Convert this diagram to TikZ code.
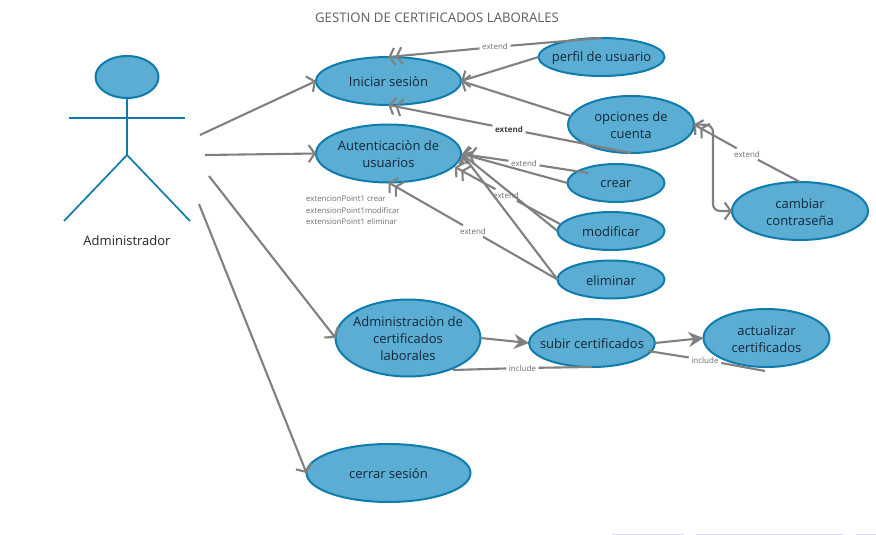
\documentclass[tikz,border=0pt]{standalone}
\usepackage{fontspec}
\setmainfont{Open Sans}
\usetikzlibrary{shapes.geometric,arrows.meta}
\definecolor{ucfill}{HTML}{5BADD3}
\definecolor{ucline}{HTML}{0F7CAB}
\definecolor{conn}{HTML}{808080}
\definecolor{txt}{HTML}{14283A}
\definecolor{smalltxt}{HTML}{6E6E6E}
\definecolor{edge}{HTML}{D9D9F2}
\tikzset{
  ucbase/.style={ellipse,draw=ucline,fill=ucfill,line width=2pt,inner sep=0pt,outer sep=0pt},
  uctext/.style={text=txt,align=center,inner sep=0pt,yshift=-1pt,font=\fontsize{13}{17}\selectfont},
  lbl/.style={text=smalltxt,inner sep=2.5pt,font=\fontsize{8}{10}\selectfont},
  conline/.style={draw=conn,line width=2.1pt},
  barb/.style={conline,-{Straight Barb[length=6pt,width=17pt]}},
  dbarb/.style={conline,-{Straight Barb[length=5pt,width=17pt]Straight Barb[length=5pt,width=17pt]}},
  solidhead/.style={conline,-{Stealth[length=15pt,width=15pt,inset=5pt]}},
  limb/.style={draw=ucline,line width=1.7pt}
}
\newcommand{\usecase}[6]{\node[ucbase,minimum width=#4pt,minimum height=#5pt,label={[uctext]center:{#6}}] (#1) at (#2,#3) {};}
\begin{document}
\begin{tikzpicture}[x=1pt,y=-1pt]
\useasboundingbox (0,0) rectangle (876,535);
\fill[white] (0,0) rectangle (876,535);
\fill[edge] (612,533.6) rectangle (684,535);
\fill[edge] (696,533.6) rectangle (843,535);
\fill[edge] (856,533.6) rectangle (876,535);

\node[text=smalltxt!85!black,font=\fontsize{13.2}{15}\selectfont] (title) at (437,17.6) {GESTION DE CERTIFICADOS LABORALES};

% actor
\node[ucbase,minimum width=63pt,minimum height=42pt] (head) at (127,77) {};
\coordinate (hip) at (127,155);
\coordinate (armL) at (69,118);
\coordinate (armR) at (185,118);
\coordinate (footL) at (64,221);
\coordinate (footR) at (190,221);
\draw[limb] (head.south) -- (hip);
\draw[limb] (armL) -- (armR);
\draw[limb] (footL) -- (hip) -- (footR);
\node[uctext,text=black!85] (actor) at (127,240) {Administrador};

% use cases
\usecase{iniciar}{388.5}{81}{145}{48}{Iniciar sesiòn}
\usecase{autent}{388.5}{153.5}{145}{58}{Autenticaciòn de\\usuarios}
\usecase{perfil}{601.5}{57}{126}{38}{perfil de usuario}
\usecase{opciones}{631}{124.5}{126}{57}{opciones de\\cuenta}
\usecase{crear}{616}{183}{97}{38}{crear}
\usecase{modificar}{611}{231}{107}{38}{modificar}
\usecase{eliminar}{611}{279.5}{107}{38}{eliminar}
\usecase{cambiar}{800}{211}{136}{58}{cambiar\\contraseña}
\usecase{admin}{408}{338}{145}{77}{Administraciòn de\\certificados\\laborales}
\usecase{subir}{592}{343}{126}{48}{subir certificados}
\usecase{actualizar}{766.5}{338}{126}{58}{actualizar\\certificados}
\usecase{cerrar}{388.5}{473}{164}{58}{cerrar sesión}

% points text
\node[lbl,anchor=west,inner sep=0pt,align=left,font=\fontsize{7.8}{11.5}\selectfont] (points) at (306,210.5) {extencionPoint1 crear\\extensionPoint1modificar\\extensionPoint1 eliminar};

% actor associations
\coordinate (a1) at (200,135);
\coordinate (a2) at (205,155);
\coordinate (a3) at (209,176);
\coordinate (a4) at (199,204);
\draw[barb] (a1) -- (iniciar.west);
\draw[barb] (a2) -- (autent.west);
\draw[barb] (a3) -- (admin.west);
\draw[barb] (a4) -- (cerrar.west);

% upper group
\draw[barb] (perfil.west) -- (iniciar.east);
\draw[barb] (opciones.172) -- (iniciar.east);
\node[lbl] (e1) at (495,47) {extend};
\draw[conline] (perfil.north) -- (e1);
\draw[dbarb] (e1) -- (iniciar.north);
\node[lbl,text=black!75,font=\bfseries\fontsize{8}{10}\selectfont] (e2) at (509,129) {extend};
\draw[conline] (opciones.south) -- (e2);
\draw[dbarb] (e2) -- (iniciar.south);

% authentication group
\coordinate (crearin) at (588,173);
\coordinate (modin) at (560,224);
\coordinate (autentlow) at (455,167);
\coordinate (autenthit) at (462,154);
\draw[barb] (crear.west) -- (autenthit);
\node[lbl] (e3) at (524,163) {extend};
\draw[conline] (crearin) -- (e3);
\draw[dbarb] (e3) -- (autenthit);
\draw[barb] (modificar.west) -- (autenthit);
\node[lbl] (e4) at (506,195) {extend};
\draw[conline] (modin) -- (e4);
\draw[dbarb] (e4) -- (autentlow);
\draw[barb] (eliminar.west) -- (autenthit);
\node[lbl] (e5) at (473,231) {extend};
\draw[conline] (eliminar.west) -- (e5);
\draw[dbarb] (e5) -- (autent.south);

% cambiar
\coordinate (bendT) at (713,125);
\coordinate (bendB) at (713,211);
\node[lbl] (e6) at (747,154) {extend};
\draw[conline] (cambiar.north) -- (e6);
\draw[dbarb] (e6) -- (opciones.east);
\draw[barb,rounded corners=7pt] (opciones.east) -- (bendT) -- (bendB) -- (cambiar.west);

% certificates
\draw[solidhead] (admin.east) -- (subir.west);
\draw[solidhead] (subir.east) -- (actualizar.west);
\coordinate (inc1b) at (453,370);
\coordinate (inc2a) at (648,351);
\coordinate (inc2b) at (765,371);
\node[lbl] (i1) at (522.5,368) {include};
\draw[conline] (subir.south) -- (i1);
\draw[conline] (i1) -- (inc1b);
\node[lbl] (i2) at (705,360) {include};
\draw[conline] (inc2a) -- (i2);
\draw[conline] (i2) -- (inc2b);
\end{tikzpicture}
\end{document}
